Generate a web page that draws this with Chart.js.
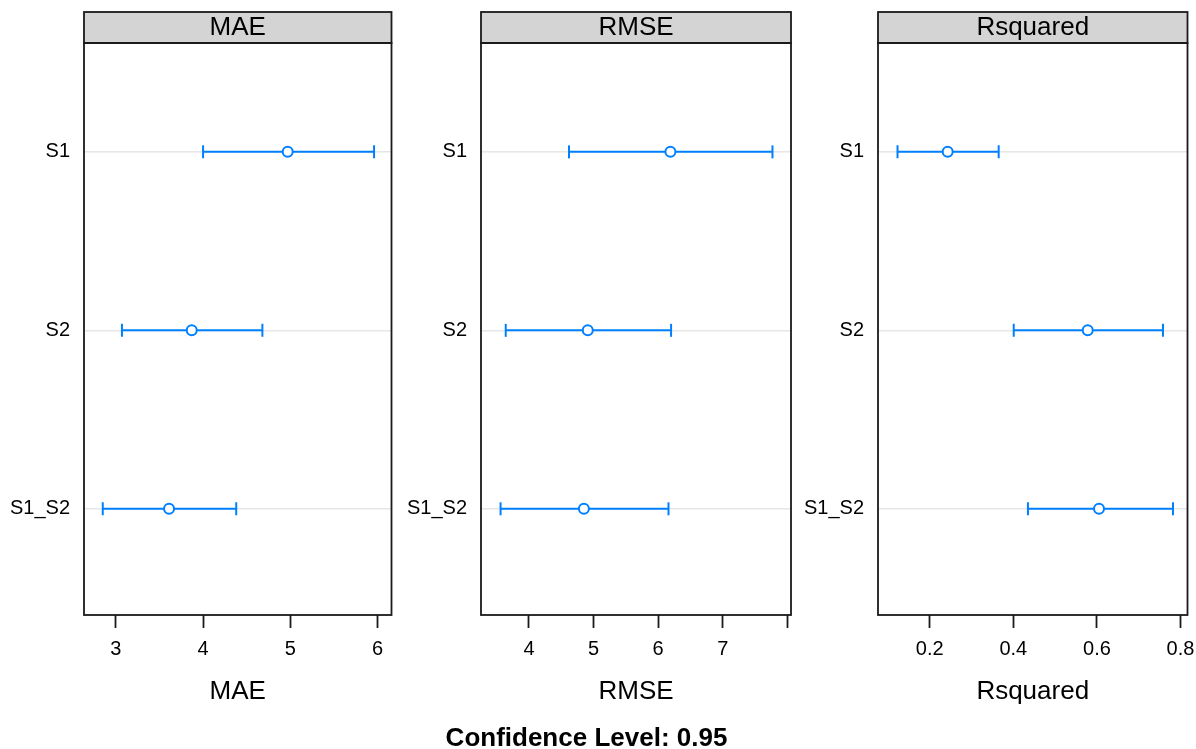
<!DOCTYPE html>
<html>
<head>
<meta charset="utf-8">
<script src="https://cdn.jsdelivr.net/npm/chart.js@4.4.1/dist/chart.umd.min.js"></script>
<style>
  body { margin: 0; background: #fff; }
  #wrap { position: relative; width: 1196px; height: 749px; overflow: hidden; }
  canvas { position: absolute; top: 0; }
  #caption { position: absolute; left: 0; top: 722px; width: 1173px; text-align: center;
    font: bold 26px "Liberation Sans", Arial, sans-serif; line-height: 30px; color: #000; }
</style>
</head>
<body>
<div id="wrap">
  <canvas id="c1" width="400" height="749" style="left:0px"></canvas>
  <canvas id="c2" width="400" height="749" style="left:400px"></canvas>
  <canvas id="c3" width="399" height="749" style="left:797px"></canvas>
  <div id="caption">Confidence Level: 0.95</div>
</div>
<script>
// resamples, top to bottom
const models = ['S1', 'S2', 'S1_S2'];

const maeLow  = [4.00, 3.07, 2.85];
const maeMid  = [4.97, 3.87, 3.61];
const maeHigh = [5.96, 4.68, 4.38];

const rmseLow  = [4.62, 3.64, 3.56];
const rmseMid  = [6.19, 4.91, 4.85];
const rmseHigh = [7.77, 6.20, 6.16];

const rsqLow  = [0.123, 0.401, 0.435];
const rsqMid  = [0.243, 0.578, 0.605];
const rsqHigh = [0.365, 0.758, 0.782];

const maeTicks  = [3, 4, 5, 6];
const maeLabels = ['3', '4', '5', '6'];
const rmseTicks  = [4, 5, 6, 7, 8];
const rmseLabels = ['4', '5', '6', '7', ''];
const rsqTicks  = [0.2, 0.4, 0.6, 0.8];
const rsqLabels = ['0.2', '0.4', '0.6', '0.8'];

const blue = '#0080ff';
Chart.defaults.font.family = '"Liberation Sans", Arial, sans-serif';
Chart.defaults.color = '#000';

// strip behind the title + frame round the panel
const panelFrame = {
  id: 'panelFrame',
  beforeDraw(chart) {
    const {ctx, chartArea: a} = chart;
    const tb = chart.titleBlock;
    ctx.save();
    ctx.fillStyle = '#d4d4d4';
    ctx.fillRect(a.left, tb.top, a.right - a.left, a.top - tb.top);
    ctx.restore();
  },
  afterDraw(chart) {
    const {ctx, chartArea: a} = chart;
    const tb = chart.titleBlock;
    ctx.save();
    ctx.strokeStyle = '#1a1a1a';
    ctx.lineWidth = 1.8;
    ctx.strokeRect(a.left, tb.top, a.right - a.left, a.top - tb.top);
    ctx.strokeRect(a.left, a.top, a.right - a.left, a.bottom - a.top);
    ctx.restore();
  }
};

function makePanel(id, name, low, mid, high, ticks, labels, xmin, xmax, yWidth, padRight) {
  const rowY = i => 3 - i;
  const datasets = [{
    data: models.map((m, i) => ({x: mid[i], y: rowY(i)})),
    pointStyle: 'circle',
    pointRadius: 5,
    pointBorderWidth: 2,
    pointBorderColor: blue,
    pointBackgroundColor: '#fff',
    showLine: false
  }];
  models.forEach((m, i) => {
    datasets.push({
      data: [{x: low[i], y: rowY(i)}, {x: high[i], y: rowY(i)}],
      showLine: true,
      borderColor: blue,
      borderWidth: 2,
      pointStyle: 'line',
      pointRotation: 90,
      pointRadius: 6.5,
      pointBorderWidth: 2,
      pointBorderColor: blue
    });
  });

  new Chart(document.getElementById(id), {
    type: 'scatter',
    data: {datasets},
    plugins: [panelFrame],
    options: {
      responsive: false,
      animation: false,
      devicePixelRatio: 1,
      layout: {padding: {top: 12, right: padRight, bottom: 42, left: 0}},
      plugins: {
        legend: {display: false},
        tooltip: {enabled: false},
        title: {
          display: true,
          text: name,
          fullSize: false,
          font: {size: 26, weight: 'normal', lineHeight: 31 / 26},
          padding: 0,
          color: '#000'
        }
      },
      scales: {
        x: {
          type: 'linear',
          min: xmin,
          max: xmax,
          afterBuildTicks: s => { s.ticks = ticks.map(v => ({value: v})); },
          afterFit: s => { s.height = 92; s.paddingLeft = 0; s.paddingRight = 0; },
          ticks: {
            font: {size: 20},
            padding: 9,
            maxRotation: 0,
            callback: (v) => labels[ticks.indexOf(v)]
          },
          grid: {drawOnChartArea: false, drawTicks: true, tickLength: 13, tickColor: '#1a1a1a', tickWidth: 1.8},
          border: {display: false},
          title: {display: true, text: name, font: {size: 26}, padding: {top: 0, bottom: 0}}
        },
        y: {
          type: 'linear',
          min: 0.405,
          max: 3.61,
          afterBuildTicks: s => { s.ticks = models.map((m, i) => ({value: rowY(i)})); },
          afterFit: s => { s.width = yWidth; },
          ticks: {
            font: {size: 20},
            padding: 14,
            callback: (v) => models[3 - v]
          },
          grid: {drawTicks: false, color: '#e6e6e6', lineWidth: 1.6},
          border: {display: false}
        }
      }
    }
  });
}

makePanel('c1', 'MAE', maeLow, maeMid, maeHigh, maeTicks, maeLabels, 2.635, 6.16, 84, 7);
makePanel('c2', 'RMSE', rmseLow, rmseMid, rmseHigh, rmseTicks, rmseLabels, 3.257, 8.057, 81, 9);
makePanel('c3', 'Rsquared', rsqLow, rsqMid, rsqHigh, rsqTicks, rsqLabels, 0.0763, 0.8167, 81, 8);
</script>
</body>
</html>
